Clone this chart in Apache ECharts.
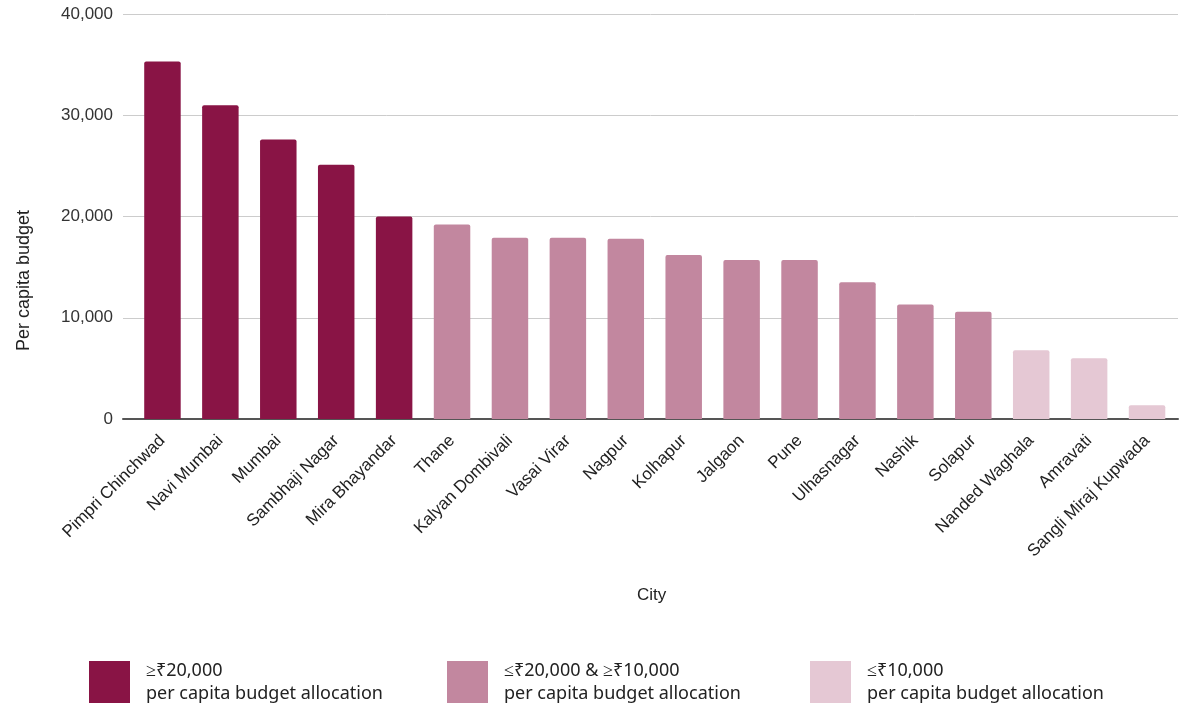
<!DOCTYPE html>
<html>
<head>
<meta charset="utf-8">
<script src="https://cdn.jsdelivr.net/npm/echarts@6/dist/echarts.min.js"></script>
<style>
html,body{margin:0;padding:0;background:#fff;}
#c{width:1179px;height:704px;}
</style>
</head>
<body>
<div id="c"></div>
<script>
const cities = ['Pimpri Chinchwad','Navi Mumbai','Mumbai','Sambhaji Nagar','Mira Bhayandar','Thane','Kalyan Dombivali','Vasai Virar','Nagpur','Kolhapur','Jalgaon','Pune','Ulhasnagar','Nashik','Solapur','Nanded Waghala','Amravati','Sangli Miraj Kupwada'];
const budget = [35300, 31000, 27600, 25100, 20000, 19200, 17900, 17900, 17800, 16200, 15700, 15700, 13500, 11300, 10600, 6800, 6000, 1350];
const tier = [0,0,0,0,0,1,1,1,1,1,1,1,1,1,1,2,2,2];
const tierNames = ['≥₹20,000', '≤₹20,000 & ≥₹10,000', '≤₹10,000'];
const tierColors = ['#891445', '#C2879F', '#E5C8D4'];
const yTicks = [0, 10000, 20000, 30000, 40000];

const chart = echarts.init(document.getElementById('c'));
const font = 'Liberation Sans, Arial, sans-serif';
const series = tierNames.map((name, t) => ({
  name: name,
  type: 'bar',
  xAxisIndex: 1,
  yAxisIndex: 1,
  barWidth: '63%',
  barGap: '-100%',
  itemStyle: { color: tierColors[t], borderRadius: [2, 2, 0, 0] },
  data: budget.map((v, i) => tier[i] === t ? v : null)
}));
const legendLefts = [89, 447, 810];
const legends = tierNames.map((name, t) => ({
  data: [name],
  left: legendLefts[t],
  top: 659,
  padding: 0,
  icon: 'rect',
  itemWidth: 41,
  itemHeight: 42,
  itemGap: 0,
  selectedMode: false,
  formatter: n => n + '\nper capita budget allocation',
  textStyle: { fontFamily: 'Noto Sans', fontSize: 18, color: '#222', lineHeight: 23, padding: [0, 0, 0, 11] }
}));

chart.setOption({
  animation: false,
  backgroundColor: '#fff',
  legend: legends,
  grid: [
    { left: 123, right: 1, top: 14, bottom: 285 },
    { left: 133.5, right: 3, top: 14, bottom: 285 }
  ],
  xAxis: [
    { type: 'category', gridIndex: 0, data: [''], axisLine: { show: true, lineStyle: { color: '#555', width: 2 } }, axisTick: { show: false }, axisLabel: { show: false } },
    { type: 'category', gridIndex: 1, data: cities, axisLine: { show: false }, axisTick: { show: false },
      axisLabel: { rotate: 45, interval: 0, fontFamily: font, fontSize: 17, color: '#222', margin: 19 } }
  ],
  yAxis: [
    { type: 'value', gridIndex: 0, min: yTicks[0], max: yTicks[yTicks.length - 1], interval: 10000,
      axisLine: { show: false }, axisTick: { show: false },
      splitLine: { lineStyle: { color: '#ccc', width: 1 } },
      axisLabel: { fontFamily: font, fontSize: 17, color: '#333', margin: 10,
        formatter: v => v.toLocaleString('en-US') } },
    { type: 'value', gridIndex: 1, min: yTicks[0], max: yTicks[yTicks.length - 1], interval: 10000, show: false, splitLine: { show: false } }
  ],
  graphic: [
    { type: 'text', left: 15, top: 210, rotation: Math.PI / 2,
      style: { text: 'Per capita budget', font: '18px ' + font, fill: '#222' } },
    { type: 'text', left: 637, top: 587,
      style: { text: 'City', font: '17px ' + font, fill: '#222' } }
  ],
  series: series
});
</script>
</body>
</html>
